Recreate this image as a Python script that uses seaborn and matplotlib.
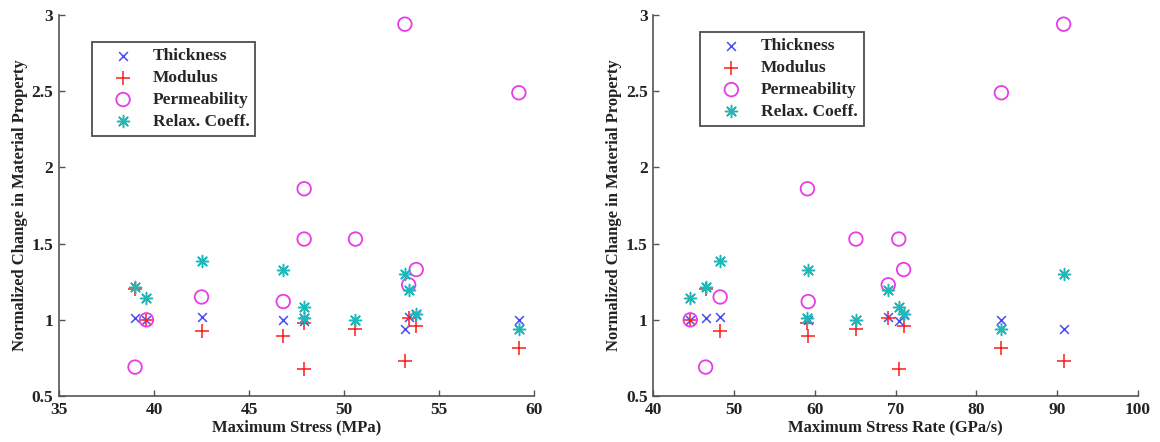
import seaborn as sns
import pandas as pd
import matplotlib.pyplot as plt

# one value per sample
stress = [39.0, 39.6, 42.5, 46.8, 47.9, 47.9, 50.6, 53.2, 53.4, 53.8, 59.2]
stress_rate = [46.5, 44.6, 48.3, 59.2, 59.1, 70.4, 65.1, 90.8, 69.1, 71.0, 83.1]
thickness = [1.01, 1.00, 1.017, 1.00, 1.01, 0.99, 1.00, 0.943, 1.02, 1.03, 0.996]
modulus = [1.20, 1.00, 0.926, 0.893, 0.98, 0.679, 0.943, 0.729, 1.01, 0.959, 0.817]
permeability = [0.69, 1.00, 1.15, 1.12, 1.86, 1.53, 1.53, 2.94, 1.23, 1.33, 2.49]
relax_coeff = [1.216, 1.14, 1.384, 1.33, 1.01, 1.085, 1.00, 1.30, 1.195, 1.04, 0.943]

df = pd.DataFrame({
    'stress': stress,
    'rate': stress_rate,
    'Thickness': thickness,
    'Modulus': modulus,
    'Permeability': permeability,
    'Relax. Coeff.': relax_coeff,
})

sns.set_style("white")
plt.rcParams['font.family'] = ['Liberation Serif', 'DejaVu Serif']
plt.rcParams['font.weight'] = 'bold'

# marker style for each property
styles = {
    'Thickness': dict(marker='x', color='#4a4aee', s=40),
    'Modulus': dict(marker='+', color='#ff1a1a', s=110),
    'Permeability': dict(marker='o', color='#e83ce8', s=95),
    'Relax. Coeff.': dict(marker=(8, 2, 0), color='#1fb8b8', s=75),
}

fig = plt.figure(figsize=(11.6, 4.42), dpi=100)
ax1 = fig.add_axes([0.0509, 0.104, 0.4095, 0.862])
ax2 = fig.add_axes([0.563, 0.104, 0.418, 0.862])

panels = [
    (ax1, 'stress', 'Maximum Stress (MPa)', (35, 60), [35, 40, 45, 50, 55, 60], (0.069, 0.929)),
    (ax2, 'rate', 'Maximum Stress Rate (GPa/s)', (40, 100), [40, 50, 60, 70, 80, 90, 100], (0.097, 0.955)),
]

for ax, xcol, xlabel, xlim, xticks, legpos in panels:
    for name, st in styles.items():
        if st['marker'] == 'o':
            sns.scatterplot(data=df, x=xcol, y=name, ax=ax, marker='o', s=st['s'],
                            facecolor='none', edgecolor=st['color'], linewidth=1.3,
                            label=name)
        else:
            sns.scatterplot(data=df, x=xcol, y=name, ax=ax, marker=st['marker'], s=st['s'],
                            color=st['color'], linewidth=1.1, label=name)
    ax.set_xlim(*xlim)
    ax.set_ylim(0.5, 3)
    ax.set_xticks(xticks)
    ax.set_yticks([0.5, 1, 1.5, 2, 2.5, 3])
    ax.set_yticklabels(['0.5', '1', '1.5', '2', '2.5', '3'])
    sns.despine(ax=ax)
    for side in ['left', 'bottom']:
        ax.spines[side].set_color('#555555')
        ax.spines[side].set_linewidth(1.2)
    ax.tick_params(direction='in', length=4, width=1, colors='#555555',
                   labelcolor='#222222', labelsize=12.5, pad=4,
                   bottom=True, left=True)
    ax.set_xlabel(xlabel, fontsize=12, fontweight='bold', labelpad=1, color='#222222')
    ax.set_ylabel('Normalized Change in Material Property', fontsize=12,
                  fontweight='bold', labelpad=3, color='#222222')
    leg = ax.legend(loc='upper left', bbox_to_anchor=legpos, fontsize=12.5,
                    frameon=True, fancybox=False, handletextpad=0.25,
                    borderpad=0.35, labelspacing=0.33, handlelength=2.9,
                    borderaxespad=0)
    leg.get_frame().set_edgecolor('#222222')
    leg.get_frame().set_linewidth(1.3)

fig.savefig('out.png', dpi=100)
